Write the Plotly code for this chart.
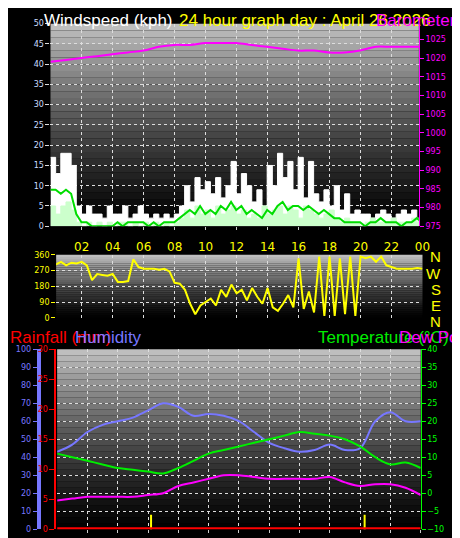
import plotly.graph_objects as go

# wind, every 20 minutes from 00:00 to 24:00
gust = [17, 13, 18, 18, 15, 5, 3, 5, 3, 3, 2, 5, 3, 3, 5, 2, 3, 5, 3, 2, 3, 2, 3, 2,
        3, 5, 10, 6, 12, 9, 11, 8, 12, 7, 10, 16, 8, 13, 10, 6, 9, 5, 15, 10, 18, 12, 16, 9,
        17, 7, 16, 8, 6, 9, 5, 10, 4, 8, 3, 4, 3, 3, 2, 3, 4, 3, 2, 3, 4, 3, 4, 2, 3]
wind_avg = [5, 3, 5, 6, 4, 1, 0, 1, 0, 1, 0, 1, 0, 1, 1, 0, 1, 0, 1, 0, 1, 0, 1, 0,
            1, 2, 4, 2, 5, 3, 4, 2, 5, 3, 4, 5, 3, 4, 2, 3, 2, 5, 3, 4, 5, 3, 5, 4,
            2, 5, 4, 3, 2, 3, 4, 2, 1, 2, 1, 1, 0, 1, 2, 1, 1, 1, 2, 1, 1, 1, 2, 1, 1]
wind_10min = [9, 9, 8, 9, 8, 3, 1, 1, 0, 0, 0, 0, 0, 1, 0, 1, 1, 1, 1, 0, 1, 0, 1, 1,
              1, 2, 3, 4, 3, 5, 3, 4, 3, 5, 4, 6, 4, 5, 3, 4, 3, 2, 4, 3, 5, 6, 4, 5,
              5, 4, 5, 4, 3, 4, 3, 2, 2, 1, 1, 1, 1, 0, 1, 1, 2, 1, 1, 1, 0, 1, 1, 2, 1]
direction = [310, 305, 320, 300, 315, 310, 320, 300, 215, 250, 245, 240, 250, 205, 205, 210,
             335, 290, 280, 280, 280, 275, 280, 265, 200, 195, 160, 80, 20, 70, 90, 110,
             70, 160, 120, 190, 140, 160, 100, 170, 120, 80, 170, 60, 40, 80, 130, 60,
             340, 50, 150, 30, 350, 10, 350, 10, 340, 20, 350, 10, 350, 340, 350, 320,
             350, 300, 290, 280, 280, 280, 280, 285, 280]
t20 = [i / 3 for i in range(len(gust))]

# hourly values
hours = list(range(25))
pressure = [1019, 1019.5, 1020, 1020.5, 1021, 1021.5, 1022, 1023, 1023.5, 1023.5, 1024, 1024, 1024,
            1023.5, 1023, 1022.5, 1022, 1022, 1021.5, 1021.5, 1022, 1023, 1023, 1023, 1023]
humidity = [43, 47, 54, 58, 60, 62, 66, 70, 68, 63, 64, 63, 60, 54, 48, 45, 43, 44, 47, 44,
            45, 60, 65, 60, 60]
temperature = [11, 10, 9, 8, 7, 6.5, 6, 5.5, 7, 9, 11, 12, 13, 14, 15, 16, 17, 16.5, 16, 15,
               13, 10, 8, 8.5, 7]
dewpoint = [-2, -1.5, -1, -1, -1, -1, -0.5, 0, 2, 3, 4, 5, 5, 4.5, 4, 4, 4, 4, 4.5, 3,
            2, 2.5, 2.5, 1.5, -0.5]
rainfall = [0] * 25
sun_marks = [6.2, 20.3]
tick_hours = [2, 4, 6, 8, 10, 12, 14, 16, 18, 20, 22, 24]
tick_text = ["02", "04", "06", "08", "10", "12", "14", "16", "18", "20", "22", "00"]

fig = go.Figure()
fig.add_trace(go.Scatter(x=t20, y=gust, xaxis="x", yaxis="y", fill="tozeroy", mode="lines",
                         line=dict(color="white", width=1, shape="hv"), fillcolor="white"))
fig.add_trace(go.Scatter(x=t20, y=wind_avg, xaxis="x", yaxis="y", fill="tozeroy", mode="lines",
                         line=dict(color="#ccffcc", width=1, shape="hv"), fillcolor="#ccffcc"))
fig.add_trace(go.Scatter(x=t20, y=wind_10min, xaxis="x", yaxis="y", mode="lines",
                         line=dict(color="#00dd00", width=2)))
fig.add_trace(go.Scatter(x=hours, y=pressure, xaxis="x", yaxis="y2", mode="lines",
                         line=dict(color="#ff00ff", width=2, shape="spline")))
fig.add_trace(go.Scatter(x=t20, y=direction, xaxis="x2", yaxis="y3", mode="lines",
                         line=dict(color="#ffff00", width=2)))
fig.add_trace(go.Scatter(x=hours, y=rainfall, xaxis="x3", yaxis="y5", mode="lines",
                         line=dict(color="#ff0000", width=4)))
fig.add_trace(go.Scatter(x=hours, y=humidity, xaxis="x3", yaxis="y4", mode="lines",
                         line=dict(color="#7777ff", width=2, shape="spline")))
fig.add_trace(go.Scatter(x=hours, y=temperature, xaxis="x3", yaxis="y6", mode="lines",
                         line=dict(color="#00ee00", width=2, shape="spline")))
fig.add_trace(go.Scatter(x=hours, y=dewpoint, xaxis="x3", yaxis="y6", mode="lines",
                         line=dict(color="#ff00ff", width=2, shape="spline")))
for s in sun_marks:
    fig.add_trace(go.Scatter(x=[s, s], y=[-1, 8], xaxis="x3", yaxis="y4", mode="lines",
                             line=dict(color="#ffff00", width=2)))

# gradient backgrounds
shapes = []
n = 30
for xr, yr in [("x", "y"), ("x2", "y3"), ("x3", "y4")]:
    for i in range(n):
        g = int(190 * (1 - i / n) ** 1.3)
        shapes.append(dict(type="rect", xref=xr + " domain", yref=yr + " domain",
                           x0=0, x1=1, y0=1 - (i + 1) / n, y1=1 - i / n, layer="below",
                           line=dict(width=0), fillcolor=f"rgb({g},{g},{g})"))

grid = dict(showgrid=True, gridcolor="#dddddd", griddash="dot", gridwidth=1, zeroline=False)
tf = dict(size=8, family="DejaVu Sans")
fig.update_layout(
    width=460, height=538, margin=dict(l=0, r=0, t=0, b=0),
    paper_bgcolor="black", plot_bgcolor="black", showlegend=False, shapes=shapes,
    xaxis=dict(domain=[0.094, 0.909], range=[0, 23.8], tickvals=tick_hours, showticklabels=False,
               ticks="outside", ticklen=3, tickcolor="#cccccc", **grid),
    yaxis=dict(range=[0, 50], dtick=5, ticks="outside", ticklen=4, tickcolor="#dddddd",
               tickfont=dict(color="#ccddff", **tf), domain=[0.595, 0.978], **grid),
    yaxis2=dict(overlaying="y", side="right", range=[975, 1029.2], dtick=5, ticks="outside",
                ticklen=4, tickcolor="#ff00ff", tickfont=dict(color="#ff00ff", **tf),
                showgrid=False, zeroline=False, showline=True, linecolor="#ff00ff"),
    xaxis2=dict(domain=[0.1065, 0.917], range=[0.35, 24], anchor="y3", side="top",
                tickvals=tick_hours, ticktext=tick_text, ticks="",
                tickfont=dict(color="#ffff00", size=12, family="DejaVu Sans"), **grid),
    yaxis3=dict(domain=[0.422, 0.541], range=[0, 360], tickvals=[0, 90, 180, 270, 360],
                anchor="x2", ticks="outside", ticklen=4, tickcolor="#ffff00",
                tickfont=dict(color="#ffff00", **tf), **grid),
    xaxis3=dict(domain=[0.1087, 0.913], range=[0, 24], anchor="y4", tickvals=tick_hours,
                showticklabels=False, ticks="outside", ticklen=3, tickcolor="#cccccc", **grid),
    yaxis4=dict(domain=[0.0223, 0.3625], range=[0, 100], dtick=10, anchor="free", position=0.068,
                ticks="outside", ticklen=4, tickcolor="#7777ff", showline=True, linewidth=4,
                linecolor="#7777ff", tickfont=dict(color="#7777ff", **tf), **grid),
    yaxis5=dict(overlaying="y4", range=[0, 30], dtick=5, anchor="free", position=0.105,
                ticks="outside", ticklen=5, tickcolor="#ff0000", showline=True, linewidth=2,
                linecolor="#ff0000", tickfont=dict(color="#ff0000", **tf), showgrid=False,
                zeroline=False),
    yaxis6=dict(overlaying="y4", side="right", anchor="x3", range=[-10, 40], dtick=5,
                ticks="outside", ticklen=4, tickcolor="#00ff00", showline=True,
                linecolor="#00ff00", tickfont=dict(color="#00ff00", **tf), showgrid=False,
                zeroline=False),
)

labels = [
    (35, 9, "Windspeed (kph)", "white"),
    (172, 9, "24 hour graph day : April 26 2026", "#ffff00"),
    (372, 9, "Barometer (hPa)", "#ff00ff"),
    (0, 331, "Rainfall (mm)", "#ff0000"),
    (66, 331, "Humidity", "#7777ff"),
    (313, 331, "Temperature (°C)", "#00ee00"),
    (396, 331, "Dew Point", "#ff00ff"),
]
for x, y, txt, c in labels:
    fig.add_annotation(x=x / 460, y=1 - y / 538, xref="paper", yref="paper", text=txt,
                       showarrow=False, xanchor="left", yanchor="middle",
                       font=dict(color=c, size=17, family="Liberation Sans"))
for i, letter in enumerate(["N", "W", "S", "E", "N"]):
    fig.add_annotation(x=443 / 460, y=1 - (249 + i * 16.5) / 538, xref="paper", yref="paper",
                       text=letter, showarrow=False,
                       font=dict(color="#ffff00", size=15, family="Liberation Sans"))

fig.write_html("out.html")
